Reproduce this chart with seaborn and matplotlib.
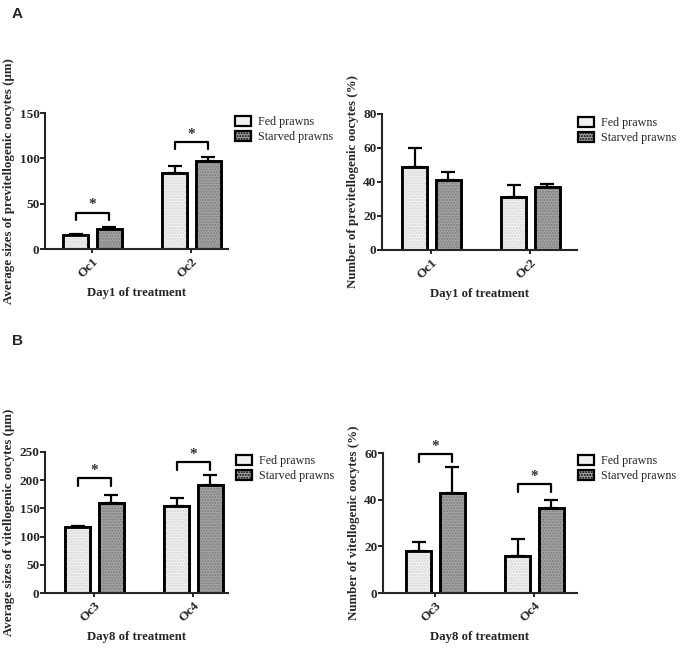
import matplotlib
matplotlib.use('Agg')
import matplotlib.pyplot as plt
from matplotlib.patches import Patch, Rectangle
import seaborn as sns
import pandas as pd

# values (mean and upper SE)
groups = ['Fed prawns', 'Starved prawns']

a_left_cats = ['Oc1', 'Oc2']
a_left_fed = [15, 84]
a_left_fed_err = [2, 7]
a_left_starved = [22, 97]
a_left_starved_err = [2, 5]
a_left_sig = [40, 118]

a_right_cats = ['Oc1', 'Oc2']
a_right_fed = [49, 31]
a_right_fed_err = [11, 7]
a_right_starved = [41, 37]
a_right_starved_err = [5, 2]
a_right_sig = [None, None]

b_left_cats = ['Oc3', 'Oc4']
b_left_fed = [117, 154]
b_left_fed_err = [2, 15]
b_left_starved = [160, 192]
b_left_starved_err = [13, 17]
b_left_sig = [204, 232]

b_right_cats = ['Oc3', 'Oc4']
b_right_fed = [18, 16]
b_right_fed_err = [4, 7]
b_right_starved = [43, 36.5]
b_right_starved_err = [11, 3.5]
b_right_sig = [59.6, 46.7]

sns.set_style('ticks')
plt.rcParams['font.family'] = ['Liberation Serif', 'DejaVu Serif']

fed_color = '#f1f1f1'
starved_color = '#a4a4a4'
palette = {'Fed prawns': fed_color, 'Starved prawns': starved_color}

fig = plt.figure(figsize=(6.8, 6.55), dpi=100)
W, H = 680, 655


def px_axes(x0, x1, ybot, ytop):
    return fig.add_axes([x0 / W, 1 - ybot / H, (x1 - x0) / W, (ybot - ytop) / H])


def draw_panel(ax, cats, fed, fed_err, starved, starved_err, sig,
               ymax, ystep, xlim, ylabel, xlabel, leg_xy):
    df = pd.DataFrame({
        'cat': cats * 2,
        'val': fed + starved,
        'grp': [groups[0]] * len(cats) + [groups[1]] * len(cats),
    })
    sns.barplot(data=df, x='cat', y='val', hue='grp', palette=palette,
                width=0.68, gap=0.25, edgecolor='black', linewidth=1.9,
                errorbar=None, legend=False, ax=ax, saturation=1)

    errs = [fed_err, starved_err]
    dots = ['#d4d4d4', '#7c7c7c']
    centers = []
    bar_sets = list(ax.containers)
    for k, cont in enumerate(bar_sets):
        xs, hs = [], []
        for p in cont.patches:
            xs.append(p.get_x() + p.get_width() / 2)
            hs.append(p.get_height())
            ax.add_patch(Rectangle((p.get_x(), 0), p.get_width(), p.get_height(),
                                   facecolor='none', edgecolor=dots[k],
                                   linewidth=0, hatch='......', zorder=p.get_zorder()))
            ax.add_patch(Rectangle((p.get_x(), 0), p.get_width(), p.get_height(),
                                   facecolor='none', edgecolor='black',
                                   linewidth=1.9, zorder=p.get_zorder() + 0.1))
        centers.append(xs)
        ax.errorbar(xs, hs, yerr=[[0] * len(hs), errs[k]], fmt='none',
                    ecolor='black', elinewidth=1.6, capsize=4.8, capthick=1.6,
                    zorder=1)

    # significance brackets
    leg = ymax * 0.055
    for i, y in enumerate(sig):
        if y is None:
            continue
        x1, x2 = centers[0][i], centers[1][i]
        ax.plot([x1, x1, x2, x2], [y - leg, y, y, y - leg], color='black',
                lw=1.6, clip_on=False)
        ax.text((x1 + x2) / 2, y + ymax * 0.01, '*', ha='center', va='bottom',
                fontsize=11, fontweight='bold', color='#333333')

    ax.set_xlim(*xlim)
    ax.set_ylim(0, ymax)
    ax.set_yticks(range(0, ymax + 1, ystep))
    ax.set_xlabel(xlabel, fontsize=9.2, fontweight='bold', labelpad=4.5)
    ax.set_ylabel(ylabel, fontsize=9.3, fontweight='bold', labelpad=3)
    ax.tick_params(axis='y', length=3.5, width=1.4, labelsize=9.5, pad=0.5)
    ax.tick_params(axis='x', length=3, width=1.4, labelsize=9.5, pad=2)
    for t in ax.get_yticklabels():
        t.set_fontweight('bold')
    for t in ax.get_xticklabels():
        t.set_fontweight('bold')
        t.set_rotation(45)
        t.set_ha('right')
        t.set_rotation_mode('anchor')
    sns.despine(ax=ax)
    for s in ['left', 'bottom']:
        ax.spines[s].set_linewidth(1.5)

    handles = [Patch(facecolor=fed_color, edgecolor='black', linewidth=1.6),
               Patch(facecolor=starved_color, edgecolor='black', linewidth=1.6,
                     hatch='......')]
    fig.legend(handles, groups, loc='upper left',
               bbox_to_anchor=(leg_xy[0] / W, 1 - leg_xy[1] / H),
               frameon=False, fontsize=8.7, handlelength=1.3, handleheight=0.95,
               handletextpad=0.6, borderpad=0, borderaxespad=0, labelspacing=0.22)


ax1 = px_axes(45, 228, 249, 113)
draw_panel(ax1, a_left_cats, a_left_fed, a_left_fed_err, a_left_starved,
           a_left_starved_err, a_left_sig, 150, 50, (-0.48, 1.37),
           'Average sizes of previtellogenic oocytes (\u00b5m)',
           'Day1 of treatment', (235, 116))

ax2 = px_axes(382, 577, 250, 114)
draw_panel(ax2, a_right_cats, a_right_fed, a_right_fed_err, a_right_starved,
           a_right_starved_err, a_right_sig, 80, 20, (-0.5, 1.47),
           'Number of previtellogenic oocytes (%)',
           'Day1 of treatment', (578, 117))

ax3 = px_axes(45, 228, 593, 452)
draw_panel(ax3, b_left_cats, b_left_fed, b_left_fed_err, b_left_starved,
           b_left_starved_err, b_left_sig, 250, 50, (-0.5, 1.35),
           'Average sizes of vitellogenic oocytes (\u00b5m)',
           'Day8 of treatment', (236, 455))

ax4 = px_axes(383, 577, 593, 453)
draw_panel(ax4, b_right_cats, b_right_fed, b_right_fed_err, b_right_starved,
           b_right_starved_err, b_right_sig, 60, 20, (-0.53, 1.43),
           'Number of vitellogenic oocytes (%)',
           'Day8 of treatment', (578, 455))

fig.text(12 / W, 1 - 14 / H, 'A', fontsize=11, fontweight='bold',
         family=['Liberation Sans', 'DejaVu Sans'], va='center')
fig.text(12 / W, 1 - 341 / H, 'B', fontsize=11, fontweight='bold',
         family=['Liberation Sans', 'DejaVu Sans'], va='center')

fig.savefig('out.png', dpi=100)
